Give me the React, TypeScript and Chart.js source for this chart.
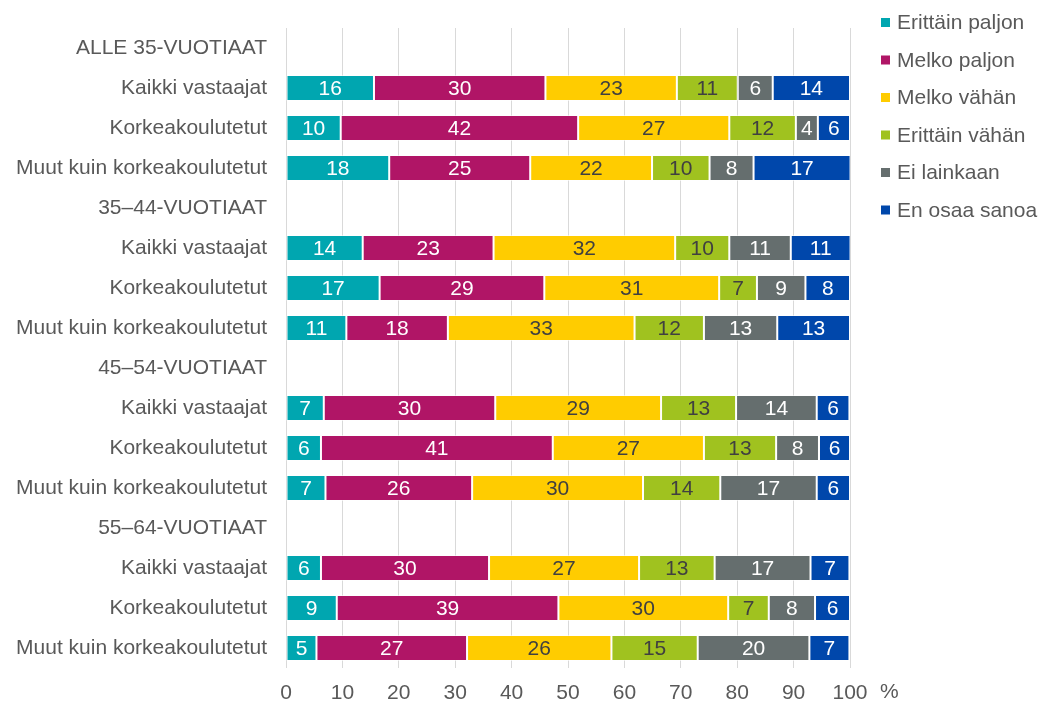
import React, { useEffect, useRef } from "react";
import { Chart, registerables } from "chart.js";

Chart.register(...registerables);

const categories = [
  "ALLE 35-VUOTIAAT",
  "Kaikki vastaajat",
  "Korkeakoulutetut",
  "Muut kuin korkeakoulutetut",
  "35–44-VUOTIAAT",
  "Kaikki vastaajat",
  "Korkeakoulutetut",
  "Muut kuin korkeakoulutetut",
  "45–54-VUOTIAAT",
  "Kaikki vastaajat",
  "Korkeakoulutetut",
  "Muut kuin korkeakoulutetut",
  "55–64-VUOTIAAT",
  "Kaikki vastaajat",
  "Korkeakoulutetut",
  "Muut kuin korkeakoulutetut",
];

const seriesNames = [
  "Erittäin paljon",
  "Melko paljon",
  "Melko vähän",
  "Erittäin vähän",
  "Ei lainkaan",
  "En osaa sanoa",
];

const erittainPaljon = [null, 15.6, 9.7, 18.3, null, 13.6, 16.6, 10.7, null, 6.7, 6.2, 7.0, null, 6.2, 9.0, 5.4];
const melkoPaljon = [null, 30.4, 42.1, 25.0, null, 23.2, 29.2, 18.0, null, 30.4, 41.1, 26.0, null, 29.8, 39.3, 26.7];
const melkoVahan = [null, 23.3, 26.8, 21.6, null, 32.2, 31.0, 33.1, null, 29.4, 26.8, 30.3, null, 26.6, 30.1, 25.6];
const erittainVahan = [null, 10.8, 11.8, 10.2, null, 9.6, 6.7, 12.3, null, 13.3, 12.8, 13.7, null, 13.4, 7.2, 15.3];
const eiLainkaan = [null, 6.2, 3.9, 7.8, null, 10.9, 8.6, 13.0, null, 14.3, 7.6, 17.1, null, 17.0, 8.2, 19.8];
const enOsaaSanoa = [null, 13.7, 5.7, 17.2, null, 10.6, 7.9, 12.9, null, 5.8, 5.5, 5.9, null, 6.9, 6.2, 7.1];

const xTicks = [0, 10, 20, 30, 40, 50, 60, 70, 80, 90, 100];

const colors = ["#00A6B0", "#B01566", "#FFCC00", "#A0C21F", "#656E6E", "#0047AB"];
const labelColors = ["#ffffff", "#ffffff", "#404040", "#404040", "#ffffff", "#ffffff"];

const FONT = "'Liberation Sans', Arial, sans-serif";
const TEXT = "#595959";

const dataLabelPlugin = {
  id: "dataLabels",
  afterDatasetsDraw(chart: any) {
    const ctx = chart.ctx;
    ctx.save();
    ctx.font = `21px ${FONT}`;
    ctx.textAlign = "center";
    ctx.textBaseline = "middle";
    chart.data.datasets.forEach((ds: any, i: number) => {
      const meta = chart.getDatasetMeta(i);
      meta.data.forEach((el: any, j: number) => {
        const v = ds.data[j];
        if (v === null || v === undefined) return;
        const p = el.getProps(["x", "base", "y"], true);
        ctx.fillStyle = labelColors[i];
        ctx.fillText(String(Math.round(v)), (p.x + p.base) / 2, p.y + 1);
      });
    });
    ctx.restore();
  },
};

const legendPlugin = {
  id: "customLegend",
  afterDraw(chart: any) {
    const ctx = chart.ctx;
    const area = chart.chartArea;
    ctx.save();
    ctx.font = `21px ${FONT}`;
    ctx.textBaseline = "middle";
    ctx.textAlign = "left";
    chart.data.datasets.forEach((ds: any, i: number) => {
      const cy = 22.5 + i * 37.5;
      ctx.fillStyle = ds.backgroundColor;
      ctx.fillRect(area.right + 31, cy - 4.5, 9, 9);
      ctx.fillStyle = TEXT;
      ctx.fillText(ds.label, area.right + 47, cy + 1);
    });
    // percent sign after x axis
    ctx.fillText("%", area.right + 30, area.bottom + 24);
    ctx.restore();
  },
};

export default function App() {
  const canvasRef = useRef<HTMLCanvasElement | null>(null);

  useEffect(() => {
    if (!canvasRef.current) return;
    const seriesValues = [erittainPaljon, melkoPaljon, melkoVahan, erittainVahan, eiLainkaan, enOsaaSanoa];
    const chart = new Chart(canvasRef.current, {
      type: "bar",
      data: {
        labels: categories,
        datasets: seriesValues.map((vals, i) => ({
          label: seriesNames[i],
          data: vals,
          backgroundColor: colors[i],
          borderColor: "rgba(255,255,255,0.55)",
          borderWidth: 1,
          borderSkipped: false,
          categoryPercentage: 1,
          barPercentage: 0.65,
        })),
      },
      options: {
        indexAxis: "y",
        animation: false,
        responsive: true,
        maintainAspectRatio: false,
        layout: { padding: { top: 28, right: 189, bottom: 0, left: 0 } },
        plugins: {
          legend: { display: false },
          tooltip: { enabled: false },
        },
        scales: {
          x: {
            stacked: true,
            min: 0,
            max: 100,
            afterFit: (scale: any) => {
              scale.height = 39;
            },
            afterBuildTicks: (scale: any) => {
              scale.ticks = xTicks.map((v) => ({ value: v }));
            },
            grid: { color: "#D9D9D9", lineWidth: 1, drawTicks: false },
            border: { display: false },
            ticks: {
              padding: 13,
              color: TEXT,
              font: { family: FONT, size: 21 },
              maxRotation: 0,
            },
          },
          y: {
            stacked: true,
            afterFit: (scale: any) => {
              scale.width = 286;
              scale.paddingTop = 0;
              scale.paddingBottom = 0;
            },
            grid: { display: false, drawTicks: false },
            border: { display: false },
            ticks: {
              padding: 19,
              color: TEXT,
              font: { family: FONT, size: 21 },
              autoSkip: false,
            },
          },
        },
      },
      plugins: [dataLabelPlugin, legendPlugin],
    });
    return () => chart.destroy();
  }, []);

  return (
    <div style={{ position: "fixed", left: 0, top: 0, width: "1039px", height: "707px" }}>
      <canvas ref={canvasRef} />
    </div>
  );
}
